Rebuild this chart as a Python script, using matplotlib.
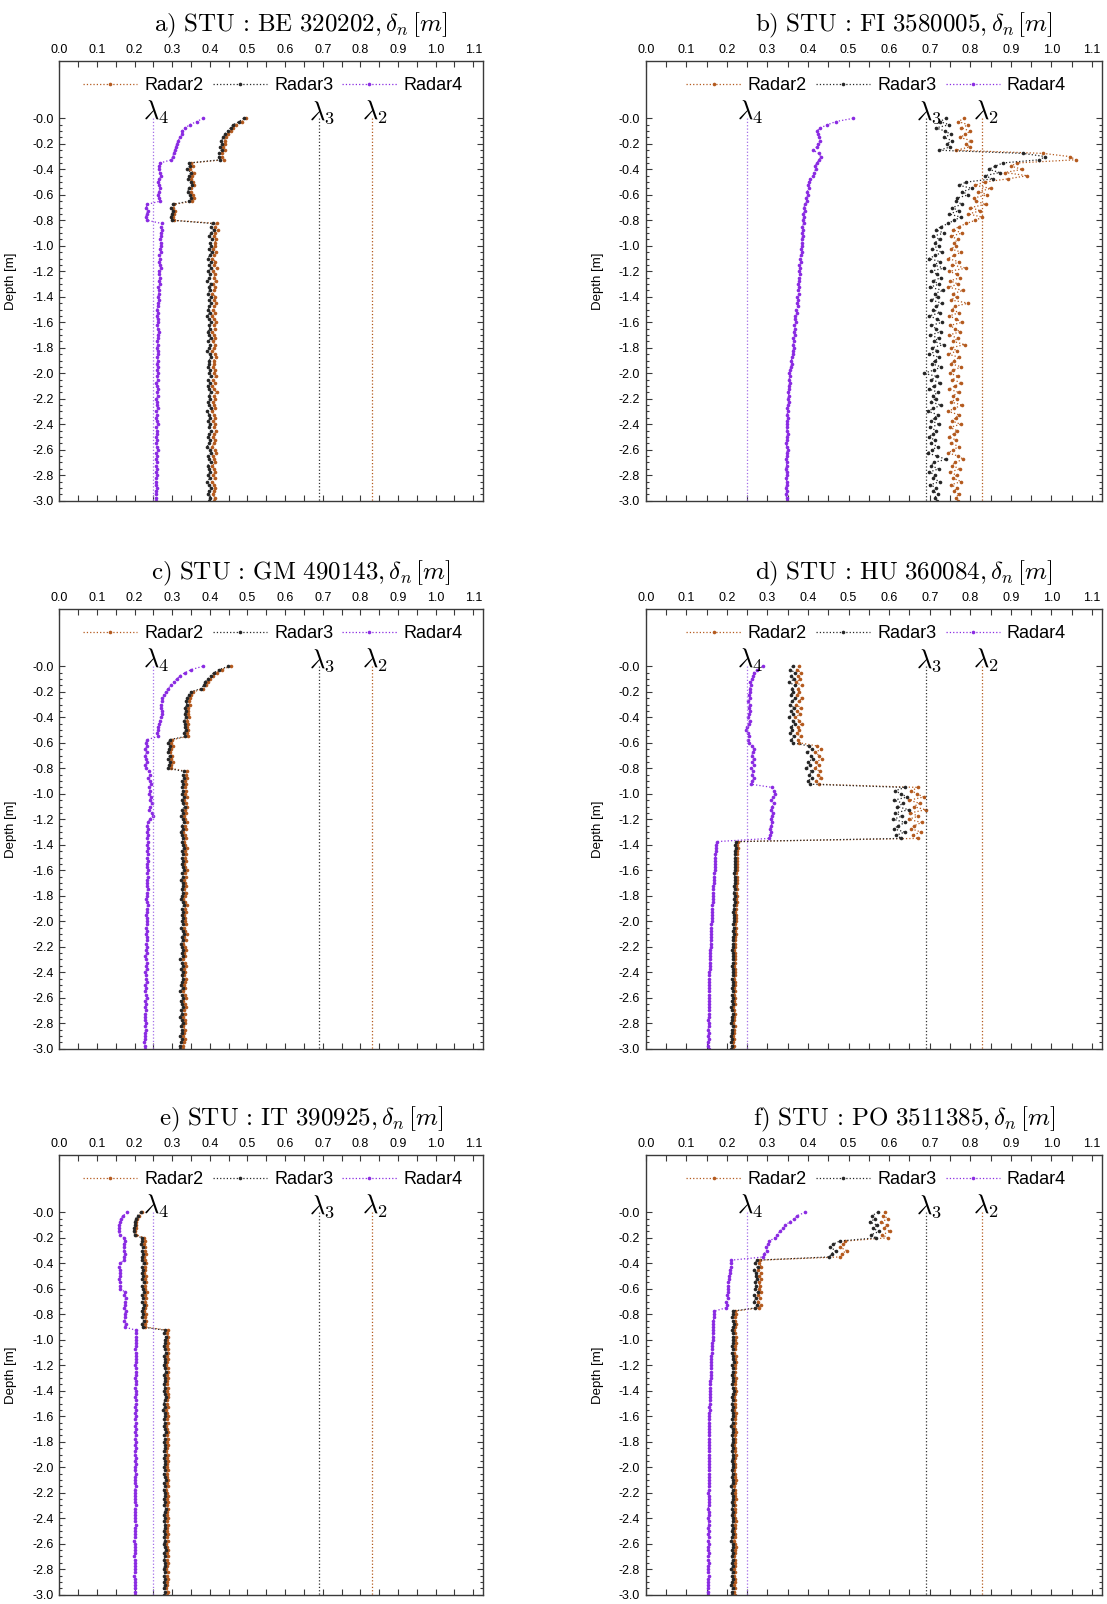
import numpy as np
import matplotlib
matplotlib.use('Agg')
import matplotlib.pyplot as plt
from matplotlib.ticker import MultipleLocator

plt.rcParams['font.family'] = ['Liberation Sans', 'DejaVu Sans']
plt.rcParams['mathtext.fontset'] = 'cm'

# profiles sampled every 2.5 cm from 0 to 3 m
depth = -0.025 * np.arange(121)

lam2 = 0.83
lam3 = 0.69
lam4 = 0.25

titles = ['a) STU:BE 320202', 'b) STU:FI 3580005', 'c) STU:GM 490143',
          'd) STU:HU 360084', 'e) STU:IT 390925', 'f) STU:PO 3511385']
xticks = [0.0, 0.1, 0.2, 0.3, 0.4, 0.5, 0.6, 0.7, 0.8, 0.9, 1.0, 1.1]
yticks = [0.0, -0.2, -0.4, -0.6, -0.8, -1.0, -1.2, -1.4, -1.6, -1.8, -2.0,
          -2.2, -2.4, -2.6, -2.8, -3.0]
ylabels = ['-0.0', '-0.2', '-0.4', '-0.6', '-0.8', '-1.0', '-1.2', '-1.4', '-1.6',
           '-1.8', '-2.0', '-2.2', '-2.4', '-2.6', '-2.8', '-3.0']

# ---- a) BE 320202
a_radar2 = [0.495, 0.486, 0.470, 0.462, 0.455, 0.447, 0.443, 0.439, 0.441, 0.435, 0.440, 0.433, 0.432, 0.437, 0.351, 0.355, 0.348, 0.357, 0.352, 0.350,
            0.356, 0.358, 0.351, 0.349, 0.355, 0.357, 0.352, 0.306, 0.303, 0.308, 0.305, 0.302, 0.306, 0.418, 0.414, 0.421, 0.415, 0.411, 0.417, 0.413,
            0.414, 0.409, 0.417, 0.412, 0.406, 0.415, 0.410, 0.418, 0.408, 0.413, 0.411, 0.416, 0.409, 0.414, 0.412, 0.407, 0.415, 0.410, 0.417, 0.411,
            0.409, 0.414, 0.406, 0.411, 0.416, 0.410, 0.413, 0.407, 0.412, 0.415, 0.408, 0.414, 0.411, 0.406, 0.413, 0.417, 0.410, 0.412, 0.408, 0.414,
            0.411, 0.416, 0.409, 0.413, 0.407, 0.412, 0.418, 0.410, 0.414, 0.408, 0.411, 0.415, 0.406, 0.412, 0.414, 0.409, 0.413, 0.410, 0.416, 0.411,
            0.408, 0.414, 0.411, 0.406, 0.413, 0.417, 0.409, 0.412, 0.415, 0.407, 0.411, 0.414, 0.409, 0.413, 0.406, 0.412, 0.415, 0.410, 0.408, 0.413,
            0.411]
a_radar3 = [0.490, 0.478, 0.462, 0.455, 0.447, 0.440, 0.436, 0.430, 0.433, 0.427, 0.431, 0.425, 0.424, 0.428, 0.344, 0.347, 0.339, 0.350, 0.345, 0.342,
            0.349, 0.353, 0.344, 0.341, 0.347, 0.351, 0.345, 0.301, 0.297, 0.303, 0.299, 0.296, 0.300, 0.408, 0.402, 0.410, 0.404, 0.399, 0.406, 0.401,
            0.403, 0.397, 0.405, 0.400, 0.394, 0.402, 0.398, 0.404, 0.396, 0.401, 0.399, 0.393, 0.403, 0.397, 0.400, 0.395, 0.402, 0.398, 0.404, 0.399,
            0.396, 0.401, 0.392, 0.398, 0.403, 0.397, 0.400, 0.394, 0.399, 0.402, 0.396, 0.401, 0.398, 0.393, 0.400, 0.403, 0.397, 0.399, 0.395, 0.401,
            0.398, 0.402, 0.396, 0.400, 0.394, 0.399, 0.403, 0.397, 0.401, 0.395, 0.398, 0.402, 0.393, 0.399, 0.401, 0.396, 0.400, 0.397, 0.403, 0.398,
            0.395, 0.401, 0.398, 0.393, 0.400, 0.404, 0.396, 0.399, 0.402, 0.394, 0.398, 0.401, 0.396, 0.400, 0.393, 0.399, 0.402, 0.397, 0.395, 0.400,
            0.398]
a_radar4 = [0.382, 0.365, 0.347, 0.334, 0.327, 0.325, 0.320, 0.316, 0.312, 0.310, 0.307, 0.304, 0.301, 0.298, 0.268, 0.266, 0.264, 0.267, 0.270, 0.265,
            0.263, 0.266, 0.268, 0.265, 0.262, 0.266, 0.268, 0.233, 0.231, 0.235, 0.232, 0.230, 0.234, 0.272, 0.270, 0.273, 0.269, 0.271, 0.268, 0.270,
            0.269, 0.267, 0.270, 0.266, 0.268, 0.265, 0.267, 0.269, 0.264, 0.266, 0.268, 0.265, 0.267, 0.263, 0.266, 0.264, 0.262, 0.265, 0.263, 0.261,
            0.260, 0.262, 0.259, 0.261, 0.263, 0.260, 0.262, 0.264, 0.261, 0.263, 0.260, 0.262, 0.259, 0.261, 0.263, 0.260, 0.262, 0.259, 0.261, 0.260,
            0.262, 0.259, 0.261, 0.258, 0.260, 0.262, 0.259, 0.261, 0.258, 0.260, 0.259, 0.261, 0.258, 0.260, 0.257, 0.259, 0.261, 0.258, 0.260, 0.259,
            0.258, 0.260, 0.257, 0.259, 0.261, 0.258, 0.260, 0.257, 0.259, 0.258, 0.260, 0.257, 0.259, 0.258, 0.256, 0.258, 0.260, 0.257, 0.258, 0.257,
            0.257]

# ---- b) FI 3580005
b_radar2 = [0.785, 0.770, 0.795, 0.778, 0.800, 0.788, 0.775, 0.802, 0.790, 0.798, 0.765, 0.980, 1.045, 1.060, 0.915, 0.900, 0.928, 0.885, 0.940, 0.892,
            0.835, 0.812, 0.850, 0.820, 0.842, 0.808, 0.815, 0.838, 0.800, 0.825, 0.795, 0.830, 0.812, 0.790, 0.772, 0.758, 0.780, 0.752, 0.770, 0.760,
            0.765, 0.752, 0.778, 0.760, 0.745, 0.772, 0.755, 0.790, 0.748, 0.768, 0.775, 0.750, 0.770, 0.746, 0.782, 0.758, 0.766, 0.752, 0.795, 0.762,
            0.755, 0.772, 0.748, 0.765, 0.780, 0.750, 0.762, 0.775, 0.747, 0.770, 0.758, 0.786, 0.753, 0.768, 0.745, 0.773, 0.760, 0.752, 0.778, 0.758,
            0.750, 0.770, 0.756, 0.778, 0.762, 0.748, 0.772, 0.758, 0.766, 0.752, 0.780, 0.760, 0.746, 0.771, 0.764, 0.755, 0.776, 0.750, 0.767, 0.759,
            0.748, 0.765, 0.753, 0.772, 0.758, 0.746, 0.770, 0.783, 0.762, 0.755, 0.775, 0.750, 0.766, 0.758, 0.778, 0.752, 0.768, 0.760, 0.772, 0.764,
            0.770]
b_radar3 = [0.740, 0.725, 0.748, 0.715, 0.738, 0.752, 0.735, 0.755, 0.742, 0.750, 0.722, 0.930, 0.985, 0.970, 0.880, 0.862, 0.845, 0.872, 0.836, 0.855,
            0.790, 0.772, 0.805, 0.780, 0.795, 0.768, 0.765, 0.780, 0.755, 0.772, 0.748, 0.776, 0.760, 0.745, 0.728, 0.715, 0.735, 0.708, 0.725, 0.712,
            0.722, 0.705, 0.731, 0.714, 0.698, 0.726, 0.710, 0.735, 0.702, 0.719, 0.728, 0.707, 0.724, 0.700, 0.733, 0.712, 0.720, 0.704, 0.729, 0.715,
            0.708, 0.725, 0.699, 0.718, 0.731, 0.703, 0.716, 0.727, 0.701, 0.722, 0.710, 0.734, 0.706, 0.719, 0.697, 0.724, 0.713, 0.705, 0.728, 0.711,
            0.685, 0.718, 0.704, 0.726, 0.710, 0.699, 0.721, 0.707, 0.715, 0.702, 0.728, 0.709, 0.696, 0.720, 0.712, 0.704, 0.724, 0.700, 0.716, 0.708,
            0.698, 0.713, 0.702, 0.720, 0.706, 0.695, 0.717, 0.741, 0.710, 0.703, 0.722, 0.699, 0.714, 0.707, 0.725, 0.701, 0.716, 0.709, 0.720, 0.712,
            0.718]
b_radar4 = [0.511, 0.469, 0.448, 0.430, 0.422, 0.424, 0.428, 0.430, 0.424, 0.421, 0.413, 0.426, 0.431, 0.427, 0.422, 0.417, 0.419, 0.415, 0.413, 0.405,
            0.402, 0.400, 0.403, 0.398, 0.399, 0.396, 0.398, 0.392, 0.390, 0.392, 0.388, 0.390, 0.387, 0.389, 0.386, 0.388, 0.385, 0.387, 0.384, 0.386,
            0.385, 0.383, 0.386, 0.382, 0.380, 0.383, 0.379, 0.381, 0.378, 0.380, 0.377, 0.379, 0.376, 0.378, 0.375, 0.377, 0.374, 0.376, 0.373, 0.375,
            0.371, 0.373, 0.369, 0.367, 0.370, 0.366, 0.368, 0.365, 0.367, 0.364, 0.366, 0.363, 0.365, 0.362, 0.364, 0.361, 0.359, 0.361, 0.357, 0.356,
            0.354, 0.356, 0.353, 0.355, 0.352, 0.354, 0.351, 0.353, 0.350, 0.352, 0.351, 0.349, 0.351, 0.348, 0.350, 0.349, 0.347, 0.349, 0.348, 0.350,
            0.347, 0.349, 0.346, 0.348, 0.350, 0.347, 0.349, 0.346, 0.348, 0.347, 0.345, 0.347, 0.349, 0.346, 0.348, 0.347, 0.345, 0.348, 0.346, 0.347,
            0.348]

# ---- c) GM 490143
c_radar2 = [0.455, 0.431, 0.418, 0.409, 0.400, 0.394, 0.390, 0.383, 0.356, 0.351, 0.347, 0.344, 0.346, 0.342, 0.343, 0.341, 0.344, 0.339, 0.342, 0.340,
            0.343, 0.339, 0.342, 0.300, 0.297, 0.301, 0.298, 0.295, 0.300, 0.296, 0.301, 0.298, 0.297, 0.339, 0.336, 0.338, 0.334, 0.337, 0.333, 0.336,
            0.334, 0.338, 0.332, 0.336, 0.340, 0.333, 0.337, 0.331, 0.335, 0.339, 0.333, 0.336, 0.330, 0.334, 0.337, 0.332, 0.335, 0.338, 0.333, 0.336,
            0.334, 0.337, 0.332, 0.335, 0.338, 0.333, 0.336, 0.331, 0.335, 0.337, 0.332, 0.336, 0.334, 0.330, 0.335, 0.338, 0.333, 0.336, 0.332, 0.335,
            0.333, 0.337, 0.331, 0.335, 0.338, 0.332, 0.336, 0.330, 0.334, 0.337, 0.332, 0.335, 0.329, 0.334, 0.336, 0.331, 0.335, 0.332, 0.337, 0.333,
            0.331, 0.335, 0.329, 0.334, 0.336, 0.330, 0.333, 0.337, 0.331, 0.334, 0.328, 0.333, 0.335, 0.330, 0.334, 0.332, 0.329, 0.333, 0.331, 0.328,
            0.329]
c_radar3 = [0.449, 0.425, 0.411, 0.402, 0.394, 0.387, 0.384, 0.376, 0.349, 0.344, 0.340, 0.337, 0.339, 0.335, 0.336, 0.333, 0.337, 0.332, 0.335, 0.333,
            0.336, 0.332, 0.335, 0.294, 0.290, 0.295, 0.292, 0.288, 0.293, 0.289, 0.294, 0.291, 0.290, 0.332, 0.328, 0.331, 0.327, 0.330, 0.326, 0.329,
            0.327, 0.331, 0.325, 0.329, 0.333, 0.326, 0.330, 0.324, 0.328, 0.332, 0.326, 0.329, 0.323, 0.327, 0.330, 0.325, 0.328, 0.331, 0.326, 0.329,
            0.327, 0.330, 0.325, 0.328, 0.331, 0.326, 0.329, 0.324, 0.328, 0.330, 0.325, 0.329, 0.327, 0.323, 0.328, 0.331, 0.326, 0.329, 0.325, 0.328,
            0.326, 0.330, 0.324, 0.328, 0.331, 0.325, 0.329, 0.323, 0.327, 0.330, 0.325, 0.328, 0.322, 0.327, 0.329, 0.324, 0.328, 0.325, 0.330, 0.326,
            0.324, 0.328, 0.322, 0.327, 0.329, 0.323, 0.326, 0.330, 0.324, 0.327, 0.321, 0.326, 0.328, 0.323, 0.327, 0.325, 0.322, 0.326, 0.324, 0.321,
            0.322]
c_radar4 = [0.381, 0.351, 0.334, 0.320, 0.312, 0.304, 0.296, 0.289, 0.283, 0.278, 0.274, 0.272, 0.270, 0.269, 0.274, 0.272, 0.269, 0.267, 0.265, 0.263,
            0.263, 0.260, 0.262, 0.234, 0.230, 0.233, 0.229, 0.232, 0.228, 0.231, 0.233, 0.229, 0.230, 0.238, 0.241, 0.237, 0.240, 0.243, 0.238, 0.241,
            0.239, 0.244, 0.240, 0.247, 0.242, 0.238, 0.245, 0.249, 0.240, 0.236, 0.233, 0.236, 0.232, 0.235, 0.233, 0.237, 0.234, 0.236, 0.233, 0.235,
            0.233, 0.235, 0.232, 0.234, 0.236, 0.233, 0.235, 0.232, 0.234, 0.233, 0.235, 0.232, 0.234, 0.231, 0.233, 0.235, 0.232, 0.234, 0.231, 0.233,
            0.232, 0.234, 0.231, 0.233, 0.230, 0.232, 0.234, 0.231, 0.233, 0.230, 0.232, 0.229, 0.231, 0.233, 0.230, 0.232, 0.229, 0.231, 0.230, 0.232,
            0.229, 0.231, 0.228, 0.230, 0.232, 0.229, 0.231, 0.228, 0.230, 0.229, 0.227, 0.229, 0.231, 0.228, 0.230, 0.227, 0.229, 0.228, 0.226, 0.228,
            0.227]

# ---- d) HU 360084
d_radar2 = [0.378, 0.372, 0.383, 0.375, 0.381, 0.370, 0.384, 0.376, 0.379, 0.373, 0.386, 0.377, 0.371, 0.382, 0.374, 0.380, 0.369, 0.378, 0.384, 0.375,
            0.377, 0.372, 0.382, 0.375, 0.379, 0.423, 0.432, 0.418, 0.428, 0.435, 0.420, 0.426, 0.416, 0.430, 0.424, 0.433, 0.419, 0.427, 0.672, 0.655,
            0.668, 0.685, 0.650, 0.675, 0.660, 0.690, 0.652, 0.672, 0.648, 0.680, 0.662, 0.655, 0.678, 0.658, 0.672, 0.227, 0.226, 0.227, 0.225, 0.226,
            0.225, 0.226, 0.224, 0.226, 0.225, 0.223, 0.225, 0.224, 0.226, 0.223, 0.224, 0.222, 0.224, 0.223, 0.225, 0.222, 0.223, 0.221, 0.223, 0.222,
            0.223, 0.221, 0.222, 0.220, 0.222, 0.221, 0.219, 0.221, 0.220, 0.218, 0.221, 0.220, 0.219, 0.221, 0.218, 0.220, 0.219, 0.221, 0.218, 0.220,
            0.219, 0.217, 0.220, 0.218, 0.219, 0.217, 0.219, 0.216, 0.218, 0.220, 0.217, 0.218, 0.216, 0.219, 0.217, 0.218, 0.216, 0.217, 0.215, 0.217,
            0.216]
d_radar3 = [0.362, 0.356, 0.368, 0.359, 0.365, 0.354, 0.367, 0.360, 0.363, 0.357, 0.369, 0.361, 0.355, 0.366, 0.359, 0.364, 0.353, 0.362, 0.367, 0.358,
            0.361, 0.356, 0.365, 0.359, 0.363, 0.402, 0.410, 0.398, 0.407, 0.412, 0.400, 0.405, 0.396, 0.409, 0.403, 0.411, 0.399, 0.406, 0.640, 0.615,
            0.628, 0.645, 0.612, 0.635, 0.620, 0.648, 0.615, 0.632, 0.610, 0.640, 0.622, 0.612, 0.638, 0.618, 0.630, 0.223, 0.221, 0.222, 0.220, 0.221,
            0.220, 0.221, 0.219, 0.221, 0.220, 0.218, 0.220, 0.219, 0.221, 0.218, 0.219, 0.217, 0.219, 0.218, 0.220, 0.217, 0.218, 0.216, 0.218, 0.217,
            0.218, 0.216, 0.217, 0.215, 0.217, 0.216, 0.214, 0.216, 0.215, 0.213, 0.216, 0.215, 0.214, 0.216, 0.213, 0.215, 0.214, 0.216, 0.213, 0.215,
            0.214, 0.212, 0.215, 0.213, 0.214, 0.212, 0.214, 0.211, 0.213, 0.215, 0.212, 0.213, 0.211, 0.214, 0.212, 0.213, 0.211, 0.212, 0.210, 0.212,
            0.211]
d_radar4 = [0.288, 0.275, 0.266, 0.265, 0.262, 0.258, 0.260, 0.256, 0.258, 0.255, 0.257, 0.253, 0.256, 0.254, 0.257, 0.255, 0.252, 0.256, 0.254, 0.250,
            0.246, 0.251, 0.254, 0.252, 0.255, 0.262, 0.268, 0.264, 0.261, 0.266, 0.263, 0.267, 0.260, 0.265, 0.262, 0.266, 0.263, 0.260, 0.312, 0.316,
            0.318, 0.314, 0.310, 0.315, 0.312, 0.309, 0.313, 0.311, 0.308, 0.312, 0.309, 0.306, 0.310, 0.307, 0.305, 0.175, 0.174, 0.173, 0.173, 0.172,
            0.172, 0.171, 0.171, 0.170, 0.170, 0.169, 0.169, 0.168, 0.168, 0.167, 0.167, 0.166, 0.166, 0.165, 0.165, 0.164, 0.164, 0.164, 0.163, 0.163,
            0.163, 0.162, 0.162, 0.161, 0.161, 0.161, 0.160, 0.160, 0.160, 0.159, 0.159, 0.159, 0.158, 0.158, 0.158, 0.158, 0.157, 0.157, 0.157, 0.157,
            0.156, 0.157, 0.156, 0.156, 0.156, 0.155, 0.156, 0.155, 0.156, 0.155, 0.155, 0.154, 0.155, 0.155, 0.154, 0.155, 0.154, 0.155, 0.154, 0.154,
            0.155]

# ---- e) IT 390925
e_radar2 = [0.221, 0.213, 0.207, 0.204, 0.205, 0.203, 0.202, 0.204, 0.226, 0.228, 0.225, 0.229, 0.227, 0.230, 0.226, 0.228, 0.231, 0.227, 0.229, 0.226,
            0.230, 0.228, 0.231, 0.227, 0.229, 0.232, 0.228, 0.230, 0.227, 0.231, 0.229, 0.226, 0.230, 0.228, 0.231, 0.227, 0.229, 0.288, 0.286, 0.290,
            0.287, 0.289, 0.285, 0.288, 0.290, 0.286, 0.289, 0.287, 0.284, 0.288, 0.290, 0.286, 0.289, 0.287, 0.285, 0.289, 0.286, 0.288, 0.290, 0.287,
            0.285, 0.288, 0.283, 0.287, 0.289, 0.286, 0.288, 0.284, 0.287, 0.290, 0.286, 0.288, 0.285, 0.289, 0.287, 0.284, 0.288, 0.286, 0.289, 0.287,
            0.286, 0.289, 0.285, 0.287, 0.290, 0.286, 0.288, 0.284, 0.287, 0.289, 0.285, 0.288, 0.286, 0.290, 0.287, 0.285, 0.288, 0.286, 0.289, 0.287,
            0.285, 0.288, 0.286, 0.289, 0.284, 0.287, 0.290, 0.286, 0.288, 0.285, 0.289, 0.287, 0.284, 0.288, 0.286, 0.289, 0.285, 0.287, 0.284, 0.288,
            0.286]
e_radar3 = [0.216, 0.208, 0.203, 0.200, 0.201, 0.199, 0.198, 0.200, 0.219, 0.221, 0.218, 0.222, 0.220, 0.223, 0.219, 0.221, 0.224, 0.220, 0.222, 0.219,
            0.223, 0.221, 0.224, 0.220, 0.222, 0.225, 0.221, 0.223, 0.220, 0.224, 0.222, 0.219, 0.223, 0.221, 0.224, 0.220, 0.222, 0.281, 0.279, 0.283,
            0.280, 0.282, 0.278, 0.281, 0.283, 0.279, 0.282, 0.280, 0.277, 0.281, 0.283, 0.279, 0.282, 0.280, 0.278, 0.282, 0.279, 0.281, 0.283, 0.280,
            0.278, 0.281, 0.276, 0.280, 0.282, 0.279, 0.281, 0.277, 0.280, 0.283, 0.279, 0.281, 0.278, 0.282, 0.280, 0.277, 0.281, 0.279, 0.282, 0.280,
            0.279, 0.282, 0.278, 0.280, 0.283, 0.279, 0.281, 0.277, 0.280, 0.282, 0.278, 0.281, 0.279, 0.283, 0.280, 0.278, 0.281, 0.279, 0.282, 0.280,
            0.278, 0.281, 0.279, 0.282, 0.277, 0.280, 0.283, 0.279, 0.281, 0.278, 0.282, 0.280, 0.277, 0.281, 0.279, 0.282, 0.278, 0.280, 0.277, 0.281,
            0.279]
e_radar4 = [0.181, 0.170, 0.163, 0.161, 0.159, 0.158, 0.158, 0.160, 0.172, 0.174, 0.171, 0.173, 0.172, 0.174, 0.171, 0.173, 0.161, 0.159, 0.162, 0.160,
            0.161, 0.159, 0.162, 0.160, 0.161, 0.175, 0.173, 0.176, 0.174, 0.175, 0.173, 0.176, 0.174, 0.175, 0.173, 0.176, 0.174, 0.204, 0.203, 0.205,
            0.204, 0.203, 0.205, 0.202, 0.204, 0.203, 0.205, 0.203, 0.202, 0.204, 0.203, 0.205, 0.202, 0.204, 0.203, 0.201, 0.204, 0.203, 0.202, 0.204,
            0.203, 0.201, 0.204, 0.202, 0.203, 0.201, 0.203, 0.202, 0.204, 0.202, 0.203, 0.201, 0.203, 0.202, 0.204, 0.202, 0.201, 0.203, 0.202, 0.203,
            0.202, 0.201, 0.203, 0.202, 0.200, 0.202, 0.203, 0.201, 0.202, 0.200, 0.202, 0.201, 0.203, 0.201, 0.202, 0.200, 0.202, 0.201, 0.203, 0.201,
            0.200, 0.202, 0.201, 0.199, 0.201, 0.202, 0.200, 0.201, 0.199, 0.201, 0.200, 0.202, 0.200, 0.201, 0.199, 0.201, 0.200, 0.202, 0.200, 0.201,
            0.200]

# ---- f) PO 3511385
f_radar2 = [0.590, 0.585, 0.598, 0.580, 0.595, 0.588, 0.602, 0.583, 0.596, 0.492, 0.486, 0.480, 0.495, 0.483, 0.478, 0.282, 0.279, 0.285, 0.277, 0.283,
            0.280, 0.284, 0.278, 0.282, 0.279, 0.285, 0.277, 0.281, 0.276, 0.283, 0.279, 0.220, 0.222, 0.219, 0.221, 0.223, 0.220, 0.218, 0.221, 0.222,
            0.220, 0.222, 0.219, 0.221, 0.218, 0.222, 0.220, 0.223, 0.219, 0.221, 0.220, 0.218, 0.222, 0.220, 0.219, 0.221, 0.223, 0.220, 0.218, 0.221,
            0.219, 0.221, 0.218, 0.222, 0.220, 0.219, 0.221, 0.217, 0.220, 0.222, 0.219, 0.221, 0.220, 0.218, 0.221, 0.219, 0.222, 0.220, 0.218, 0.221,
            0.220, 0.218, 0.221, 0.219, 0.222, 0.220, 0.217, 0.221, 0.219, 0.220, 0.222, 0.218, 0.220, 0.219, 0.221, 0.218, 0.220, 0.222, 0.219, 0.220,
            0.218, 0.221, 0.219, 0.217, 0.220, 0.222, 0.219, 0.221, 0.218, 0.220, 0.219, 0.221, 0.217, 0.220, 0.218, 0.221, 0.219, 0.217, 0.220, 0.218,
            0.219]
f_radar3 = [0.572, 0.558, 0.566, 0.552, 0.570, 0.560, 0.575, 0.556, 0.568, 0.478, 0.462, 0.455, 0.468, 0.458, 0.452, 0.274, 0.270, 0.276, 0.268, 0.273,
            0.271, 0.275, 0.269, 0.273, 0.270, 0.276, 0.268, 0.272, 0.266, 0.274, 0.270, 0.214, 0.216, 0.213, 0.215, 0.217, 0.214, 0.212, 0.215, 0.216,
            0.214, 0.216, 0.213, 0.215, 0.212, 0.216, 0.214, 0.217, 0.213, 0.215, 0.214, 0.212, 0.216, 0.214, 0.213, 0.215, 0.217, 0.214, 0.212, 0.215,
            0.213, 0.215, 0.212, 0.216, 0.214, 0.213, 0.215, 0.211, 0.214, 0.216, 0.213, 0.215, 0.214, 0.212, 0.215, 0.213, 0.216, 0.214, 0.212, 0.215,
            0.214, 0.212, 0.215, 0.213, 0.216, 0.214, 0.211, 0.215, 0.213, 0.214, 0.216, 0.212, 0.214, 0.213, 0.215, 0.212, 0.214, 0.216, 0.213, 0.214,
            0.212, 0.215, 0.213, 0.211, 0.214, 0.216, 0.213, 0.215, 0.212, 0.214, 0.213, 0.215, 0.211, 0.214, 0.212, 0.215, 0.213, 0.211, 0.214, 0.212,
            0.213]
f_radar4 = [0.393, 0.374, 0.366, 0.355, 0.344, 0.338, 0.331, 0.324, 0.318, 0.305, 0.301, 0.296, 0.298, 0.292, 0.290, 0.211, 0.209, 0.210, 0.207, 0.208,
            0.205, 0.206, 0.203, 0.204, 0.202, 0.203, 0.201, 0.202, 0.199, 0.200, 0.197, 0.169, 0.168, 0.168, 0.167, 0.167, 0.166, 0.166, 0.165, 0.165,
            0.165, 0.164, 0.164, 0.163, 0.163, 0.162, 0.162, 0.161, 0.161, 0.161, 0.160, 0.160, 0.160, 0.159, 0.159, 0.159, 0.158, 0.158, 0.158, 0.158,
            0.158, 0.157, 0.158, 0.157, 0.157, 0.157, 0.156, 0.157, 0.156, 0.156, 0.156, 0.157, 0.156, 0.156, 0.155, 0.156, 0.156, 0.155, 0.156, 0.156,
            0.156, 0.155, 0.156, 0.155, 0.155, 0.156, 0.155, 0.155, 0.154, 0.155, 0.155, 0.156, 0.155, 0.154, 0.155, 0.155, 0.154, 0.155, 0.155, 0.154,
            0.155, 0.154, 0.155, 0.154, 0.155, 0.154, 0.154, 0.155, 0.154, 0.154, 0.155, 0.154, 0.153, 0.154, 0.155, 0.154, 0.154, 0.153, 0.154, 0.154,
            0.154]

radar2 = [a_radar2, b_radar2, c_radar2, d_radar2, e_radar2, f_radar2]
radar3 = [a_radar3, b_radar3, c_radar3, d_radar3, e_radar3, f_radar3]
radar4 = [a_radar4, b_radar4, c_radar4, d_radar4, e_radar4, f_radar4]

col2 = '#b45a1e'
col3 = '#262626'
col4 = '#8a2be2'
frame = '#3a3a3a'

W, H = 1107, 1604
fig = plt.figure(figsize=(W / 100, H / 100), dpi=100)

# panel boxes in pixels: left, width (per column), top (per row)
lefts = [59.3, 645.7]
widths = [423.4, 456.5]
tops = [61, 609, 1155]
ph = 439.7

for k in range(6):
    r, c = k // 2, k % 2
    pw = widths[c]
    ax = fig.add_axes([lefts[c] / W, 1 - (tops[r] + ph) / H, pw / W, ph / H])

    ax.plot(radar2[k], depth, ls=':', lw=0.9, color=col2, marker='o', ms=2.6, mew=0, label='Radar2')
    ax.plot(radar3[k], depth, ls=':', lw=0.9, color=col3, marker='o', ms=2.6, mew=0, label='Radar3')
    ax.plot(radar4[k], depth, ls=':', lw=0.9, color=col4, marker='o', ms=2.6, mew=0, label='Radar4')

    ax.plot([lam4, lam4], [0, -3.0], ls=':', lw=0.9, color='#a46ee8')
    ax.plot([lam3, lam3], [0, -3.0], ls=':', lw=0.9, color='#333333')
    ax.plot([lam2, lam2], [0, -3.0], ls=':', lw=0.9, color=col2)
    dx = 3.0 / (pw / 1.125)
    for lam, s in [(lam4, r'$\lambda_4$'), (lam3, r'$\lambda_3$'), (lam2, r'$\lambda_2$')]:
        ax.text(lam + dx, -0.012, s, fontsize=19, ha='center', va='baseline')

    ax.set_xlim(0, 1.125)
    ax.set_ylim(-3.0, 0.45)
    ax.set_xticks(xticks)
    ax.xaxis.set_minor_locator(MultipleLocator(0.05))
    ax.set_yticks(yticks)
    ax.set_yticklabels(ylabels)
    ax.set_yticks(list(-0.05 * np.arange(61)), minor=True)
    ax.tick_params(axis='x', which='both', direction='in', top=True, bottom=True,
                   labeltop=True, labelbottom=False, length=4, width=0.8, color=frame,
                   labelsize=9, pad=3.5)
    ax.tick_params(axis='y', which='both', direction='in', left=True, right=True,
                   width=0.8, color=frame, labelsize=9, pad=4)
    ax.tick_params(axis='y', which='major', length=4)
    ax.tick_params(axis='y', which='minor', length=2.5)
    for sp in ax.spines.values():
        sp.set_color(frame)
        sp.set_linewidth(1.0)

    ax.set_ylabel('Depth [m]', fontsize=9.5)
    ax.yaxis.set_label_coords(-42 / pw, 0.5)

    ax.legend(loc='center', bbox_to_anchor=(0.505, 1 - 25 / ph), ncol=3, frameon=False,
              fontsize=13, handlelength=3.0, handletextpad=0.4, columnspacing=0.5,
              numpoints=1, markerscale=1.0)

    head = titles[k].replace(' ', r'\ ').replace(':', r'\,:\,')
    ax.text(0.5 + 30 / pw, 1 + 30 / ph, r'$\mathrm{' + head + r'},\delta_n\,[m]$',
            transform=ax.transAxes, ha='center', va='baseline', fontsize=18)

fig.savefig('out.png', dpi=100)
